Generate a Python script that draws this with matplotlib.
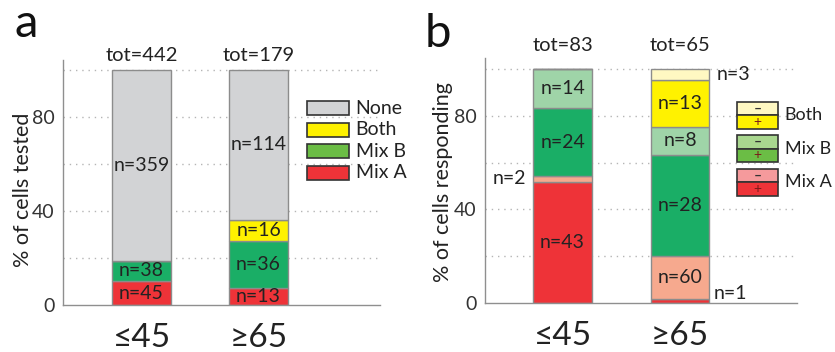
import matplotlib
matplotlib.use("Agg")
import matplotlib.pyplot as plt
from matplotlib.patches import Rectangle
import numpy as np

plt.rcParams['font.family'] = ['Lato', 'DejaVu Sans']

# ---- data ----
groups = ["≤45", "≥65"]

# panel a: cells tested
a_tot = [442, 179]
a_cats = ["Mix A", "Mix B", "Both", "None"]
a_counts = {
    "Mix A": [45, 13],
    "Mix B": [38, 36],
    "Both": [0, 16],
    "None": [359, 114],
}

# panel b: cells responding (+ / - split)
b_tot = [83, 65]
b_cats = ["Mix A +", "Mix A -", "Mix B +", "Mix B -", "Both +", "Both -"]
b_counts = {
    "Mix A +": [43, 1],
    "Mix A -": [2, 12],
    "Mix B +": [24, 28],
    "Mix B -": [14, 8],
    "Both +": [0, 13],
    "Both -": [0, 3],
}
# labels as printed in the figure
b_labels = {
    "Mix A +": ["n=43", "n=1"],
    "Mix A -": ["n=2", "n=60"],
    "Mix B +": ["n=24", "n=28"],
    "Mix B -": ["n=14", "n=8"],
    "Both +": ["", "n=13"],
    "Both -": ["", "n=3"],
}
# labels drawn outside the bar: (category, bar index) -> side
b_outside = {("Mix A -", 0): "left", ("Both -", 1): "right", ("Mix A +", 1): "right_low"}

a_colors = {"Mix A": "#ee3338", "Mix B": "#1aae66", "Both": "#fff200", "None": "#d2d3d5"}
a_leg_colors = {"None": "#d2d3d5", "Both": "#fff200", "Mix B": "#6bbd45", "Mix A": "#ee3338"}
b_colors = {"Mix A +": "#ee3338", "Mix A -": "#f6a98e", "Mix B +": "#1aae66",
            "Mix B -": "#9fd4a8", "Both +": "#fff200", "Both -": "#fff8c2"}
b_leg = [("Both", "#fff8c2", "#fff200"), ("Mix B", "#a9d78f", "#6bbd45"),
         ("Mix A", "#f59a9c", "#ee3338")]

edge = "#8c8c8c"
fs = 14
W, H = 835, 352
fig = plt.figure(figsize=(W / 100, H / 100), dpi=100)


def px_axes(l, r, t, b):
    return fig.add_axes([l / W, 1 - b / H, (r - l) / W, (b - t) / H])


def style(ax, ytop):
    ax.set_ylim(0, ytop)
    for s in ["top", "right"]:
        ax.spines[s].set_visible(False)
    for s in ["left", "bottom"]:
        ax.spines[s].set_color("#8f8f8f")
        ax.spines[s].set_linewidth(1.0)
    ax.set_yticks([0, 40, 80])
    ax.tick_params(axis="y", length=0, labelsize=14, pad=6, labelcolor="#333333")
    ax.tick_params(axis="x", length=0, labelsize=24, pad=13, labelcolor="#222222")
    for g in [20, 40, 60, 80, 100]:
        ax.axhline(g, color="#b5b5b5", lw=1, ls=(0, (1, 3.5)), zorder=0)
    ax.set_xticks([1, 2])
    ax.set_xticklabels(groups)


x = np.array([1, 2])

# ---- panel a ----
axa = px_axes(63, 380, 60, 305)
axa.set_xlim(0.329, 3.038)
style(axa, 104.3)
bottom = np.zeros(2)
for c in a_cats:
    vals = np.array(a_counts[c]) / np.array(a_tot) * 100
    axa.bar(x, vals, 0.504, bottom=bottom, color=a_colors[c], edgecolor=edge,
            linewidth=1, zorder=2)
    for i in range(2):
        if a_counts[c][i] > 0:
            axa.text(x[i], bottom[i] + vals[i] / 2, "n=%d" % a_counts[c][i],
                     ha="center", va="center", fontsize=fs, color="#222222", zorder=3)
    bottom += vals
for i in range(2):
    axa.text(x[i], 102.6, "tot=%d" % a_tot[i], ha="center", va="bottom",
             fontsize=14.5, color="#222222", clip_on=False)

# legend a
for k, c in enumerate(["None", "Both", "Mix B", "Mix A"]):
    yc = 83.8 - k * 9.2
    axa.add_patch(Rectangle((2.414, yc - 3.0), 0.36, 6.0, facecolor=a_leg_colors[c],
                            edgecolor="#333333", lw=1.2, clip_on=False, zorder=3))
    axa.text(2.83, yc, c, ha="left", va="center", fontsize=fs, color="#222222")

# ---- panel b ----
axb = px_axes(485, 797, 58, 303)
axb.set_xlim(0.34, 2.996)
style(axb, 104.7)
bottom = np.zeros(2)
for c in b_cats:
    vals = np.array(b_counts[c]) / np.array(b_tot) * 100
    axb.bar(x, vals, 0.50, bottom=bottom, color=b_colors[c], edgecolor=edge,
            linewidth=1, zorder=2)
    for i in range(2):
        lab = b_labels[c][i]
        if not lab:
            continue
        yc = bottom[i] + vals[i] / 2
        side = b_outside.get((c, i))
        if side == "left":
            axb.text(x[i] - 0.31, yc, lab, ha="right", va="center", fontsize=fs,
                     color="#222222")
        elif side == "right":
            axb.text(x[i] + 0.31, yc, lab, ha="left", va="center", fontsize=fs,
                     color="#222222")
        elif side == "right_low":
            axb.text(x[i] + 0.29, 0.3, lab, ha="left", va="bottom", fontsize=fs,
                     color="#222222")
        else:
            axb.text(x[i], yc, lab, ha="center", va="center", fontsize=fs,
                     color="#222222", zorder=3)
    bottom += vals
for i in range(2):
    axb.text(x[i], 106.2, "tot=%d" % b_tot[i], ha="center", va="bottom",
             fontsize=14.5, color="#222222", clip_on=False)

# legend b
for k, (name, cminus, cplus) in enumerate(b_leg):
    ytop = 85.9 - k * 14.3
    h = 5.7
    axb.add_patch(Rectangle((2.485, ytop - h), 0.349, h, facecolor=cminus,
                            edgecolor="#333333", lw=1.2, clip_on=False, zorder=3))
    axb.add_patch(Rectangle((2.485, ytop - 2 * h), 0.349, h, facecolor=cplus,
                            edgecolor="#333333", lw=1.2, clip_on=False, zorder=3))
    axb.text(2.66, ytop - h / 2, "–", ha="center", va="center", fontsize=10,
             fontweight="bold", color="#333333", zorder=4)
    axb.text(2.66, ytop - 1.5 * h, "+", ha="center", va="center", fontsize=10,
             color="#7a1a1a", zorder=4)
    axb.text(2.89, ytop - h, name, ha="left", va="center", fontsize=13, color="#222222")

# axis labels and panel letters
fig.text(23 / W, 1 - 190 / H, "% of cells tested", rotation=90, ha="center",
         va="center", fontsize=15.5, color="#222222")
fig.text(443 / W, 1 - 182 / H, "% of cells responding", rotation=90, ha="center",
         va="center", fontsize=15.5, color="#222222")
fig.text(15 / W, 1 - 37 / H, "a", fontsize=34, ha="left", va="baseline", color="#111111")
fig.text(425 / W, 1 - 47 / H, "b", fontsize=34, ha="left", va="baseline", color="#111111")

fig.savefig("out.png", dpi=100)
